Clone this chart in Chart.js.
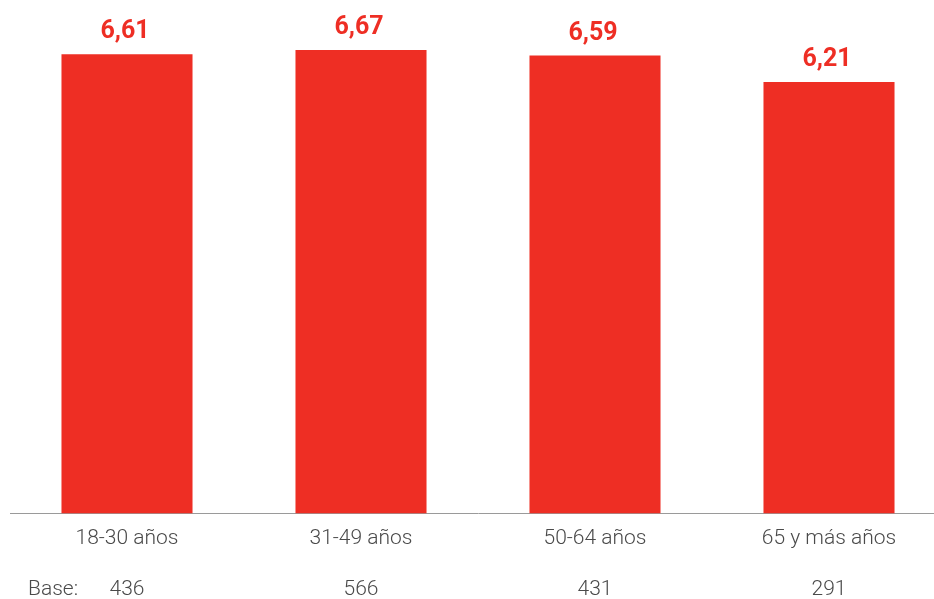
<!DOCTYPE html>
<html>
<head>
<meta charset="utf-8">
<script src="https://cdn.jsdelivr.net/npm/chart.js@4/dist/chart.umd.min.js"></script>
<style>
  html, body { margin: 0; padding: 0; background: #fff; overflow: hidden; width: 934px; height: 599px; }
  #wrap { width: 946px; height: 614px; position: relative; }
</style>
</head>
<body>
<div id="wrap"><canvas id="chart"></canvas></div>
<script>
var categories = ['18-30 años', '31-49 años', '50-64 años', '65 y más años'];
var values = [6.61, 6.67, 6.59, 6.21];
var bases = [436, 566, 431, 291];
var baseTitle = 'Base:';

var red = '#EE2E24';
var textGrey = '#4a4a4a';

function fmt(v) {
  return v.toFixed(2).replace('.', ',');
}

// value labels above bars + the "Base:" row title
var labelsPlugin = {
  id: 'labelsPlugin',
  afterDatasetsDraw: function(chart) {
    var ctx = chart.ctx;
    var meta = chart.getDatasetMeta(0);
    ctx.save();
    ctx.fillStyle = red;
    ctx.font = 'bold 25px Roboto';
    ctx.textAlign = 'center';
    ctx.textBaseline = 'alphabetic';
    meta.data.forEach(function(bar, i) {
      ctx.fillText(fmt(values[i]), bar.x - 2, bar.y - 16);
    });
    ctx.fillStyle = textGrey;
    ctx.font = '300 21px Roboto';
    ctx.textAlign = 'left';
    ctx.textBaseline = 'middle';
    ctx.fillText(baseTitle, 28, chart.chartArea.bottom + 76);
    ctx.restore();
  }
};

var ctx = document.getElementById('chart').getContext('2d');
var chart = new Chart(ctx, {
  type: 'bar',
  data: {
    labels: categories.map(function(c, i) { return [c, '', String(bases[i])]; }),
    datasets: [{
      data: values,
      backgroundColor: red,
      borderWidth: 0,
      barPercentage: 0.56,
      categoryPercentage: 1
    }]
  },
  options: {
    responsive: true,
    maintainAspectRatio: false,
    animation: false,
    layout: { padding: { left: 10, right: 0, top: 0, bottom: 0 } },
    plugins: {
      legend: { display: false },
      tooltip: { enabled: false }
    },
    scales: {
      x: {
        grid: { display: false, drawTicks: false },
        border: { display: true, color: '#9a9a9a', width: 1 },
        ticks: {
          color: textGrey,
          padding: 12,
          maxRotation: 0,
          autoSkip: false,
          font: { family: 'Roboto', size: 21, weight: '300', lineHeight: 1.214 }
        }
      },
      y: {
        display: false,
        min: 0,
        max: 7.39
      }
    }
  },
  plugins: [labelsPlugin]
});
</script>
</body>
</html>
